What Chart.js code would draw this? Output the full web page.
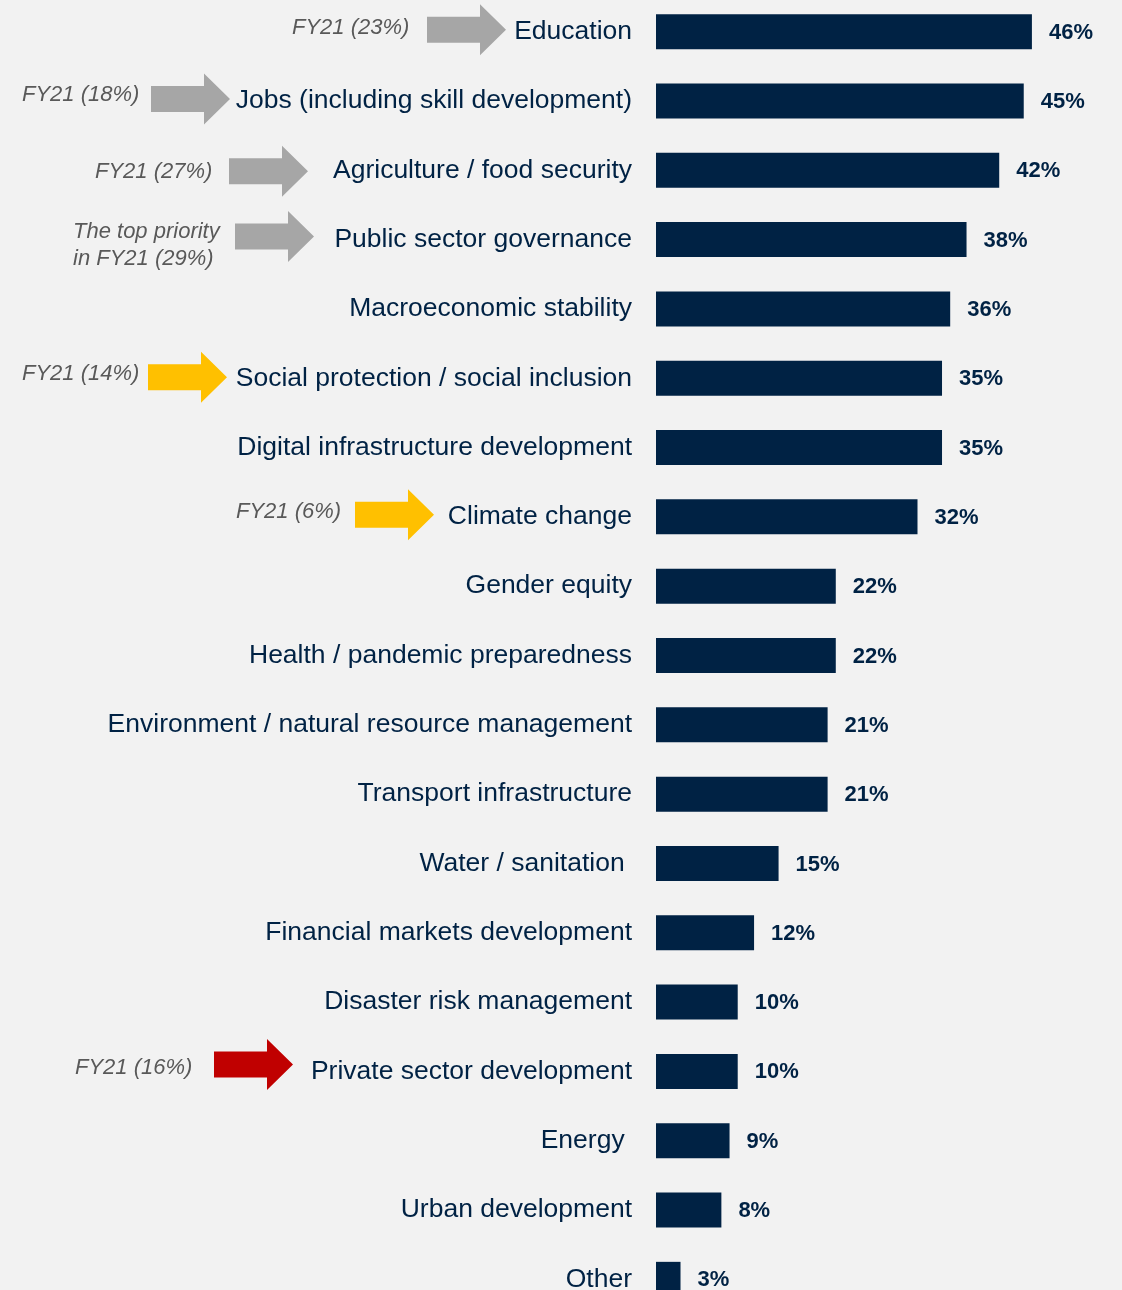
<!DOCTYPE html>
<html>
<head>
<meta charset="utf-8">
<script src="https://cdn.jsdelivr.net/npm/chart.js@4"></script>
<style>
  html, body { margin: 0; padding: 0; background: #f2f2f2; overflow: hidden; }
  #chart { position: absolute; left: 0; top: -3px; }
</style>
</head>
<body>
<canvas id="chart" width="1122" height="1317"></canvas>
<script>
// priorities, share of respondents (%)
var categories = [
    'Education', 'Jobs (including skill development)', 'Agriculture / food security',
    'Public sector governance', 'Macroeconomic stability', 'Social protection / social inclusion',
    'Digital infrastructure development', 'Climate change', 'Gender equity',
    'Health / pandemic preparedness', 'Environment / natural resource management',
    'Transport infrastructure', 'Water / sanitation ', 'Financial markets development',
    'Disaster risk management', 'Private sector development', 'Energy ', 'Urban development', 'Other'
];
var shares = [46, 45, 42, 38, 36, 35, 35, 32, 22, 22, 21, 21, 15, 12, 10, 10, 9, 8, 3];

// FY21 comparison notes
var noteCategories = ['Education', 'Jobs (including skill development)', 'Agriculture / food security',
    'Public sector governance', 'Social protection / social inclusion', 'Climate change', 'Private sector development'];
var noteTexts = ['FY21 (23%)', 'FY21 (18%)', 'FY21 (27%)', 'The top priority\nin FY21 (29%)',
    'FY21 (14%)', 'FY21 (6%)', 'FY21 (16%)'];
var noteTrend = ['flat', 'flat', 'flat', 'flat', 'up', 'up', 'down'];

var navy = '#002244';
var font = '"Liberation Sans", Arial, sans-serif';
var trendColors = { flat: '#a6a6a6', up: '#ffc000', down: '#c00000' };

// where each note sits: arrow left x, arrow dy, text x, text dy (relative to bar centre)
var noteLayout = [
    { ax: 427, ady: -2, tx: 292, tdy: -4 },
    { ax: 151, ady: -2, tx: 22, tdy: -6 },
    { ax: 229, ady: 1, tx: 95, tdy: 2 },
    { ax: 235, ady: -3, tx: 73, tdy: -8 },
    { ax: 148, ady: -1, tx: 22, tdy: -4 },
    { ax: 355, ady: -2, tx: 236, tdy: -5 },
    { ax: 214, ady: -7, tx: 75, tdy: -4 }
];

function drawArrow(ctx, x, cy, color) {
    ctx.fillStyle = color;
    ctx.beginPath();
    ctx.moveTo(x, cy - 13);
    ctx.lineTo(x + 53, cy - 13);
    ctx.lineTo(x + 53, cy - 25.5);
    ctx.lineTo(x + 79, cy);
    ctx.lineTo(x + 53, cy + 25.5);
    ctx.lineTo(x + 53, cy + 13);
    ctx.lineTo(x, cy + 13);
    ctx.closePath();
    ctx.fill();
}

var valueLabels = {
    id: 'valueLabels',
    afterDatasetsDraw: function (chart) {
        var ctx = chart.ctx;
        var meta = chart.getDatasetMeta(0);
        ctx.save();
        ctx.font = 'bold 22px ' + font;
        ctx.fillStyle = navy;
        ctx.textAlign = 'left';
        ctx.textBaseline = 'middle';
        meta.data.forEach(function (bar, i) {
            ctx.fillText(shares[i] + '%', bar.x + 17, bar.y + 1);
        });
        ctx.restore();
    }
};

var fy21Notes = {
    id: 'fy21Notes',
    afterDraw: function (chart) {
        var ctx = chart.ctx;
        var yScale = chart.scales.y;
        ctx.save();
        for (var i = 0; i < noteCategories.length; i++) {
            var idx = categories.indexOf(noteCategories[i]);
            var cy = yScale.getPixelForValue(idx);
            var lay = noteLayout[i];
            drawArrow(ctx, lay.ax, cy + lay.ady, trendColors[noteTrend[i]]);
            ctx.font = 'italic 22px ' + font;
            ctx.fillStyle = '#595959';
            ctx.textAlign = 'left';
            ctx.textBaseline = 'middle';
            var lines = noteTexts[i].split('\n');
            for (var k = 0; k < lines.length; k++) {
                ctx.fillText(lines[k], lay.tx, cy + lay.tdy + k * 27);
            }
        }
        ctx.restore();
    }
};

new Chart(document.getElementById('chart'), {
    type: 'bar',
    data: {
        labels: categories,
        datasets: [{
            data: shares,
            backgroundColor: navy,
            borderWidth: 0,
            barPercentage: 0.505,
            categoryPercentage: 1
        }]
    },
    options: {
        indexAxis: 'y',
        responsive: false,
        animation: false,
        layout: { padding: { left: 0, right: 10, top: 0, bottom: 0 } },
        plugins: { legend: { display: false }, tooltip: { enabled: false } },
        scales: {
            x: { display: false, min: 0, max: 55.8 },
            y: {
                grid: { display: false, drawTicks: false },
                border: { display: false },
                ticks: {
                    autoSkip: false,
                    padding: 24,
                    color: navy,
                    font: { family: font, size: 26.5 }
                },
                afterFit: function (scale) {
                    scale.width = 656;
                    scale.paddingTop = 0;
                    scale.paddingBottom = 0;
                }
            }
        }
    },
    plugins: [valueLabels, fy21Notes]
});
</script>
</body>
</html>
